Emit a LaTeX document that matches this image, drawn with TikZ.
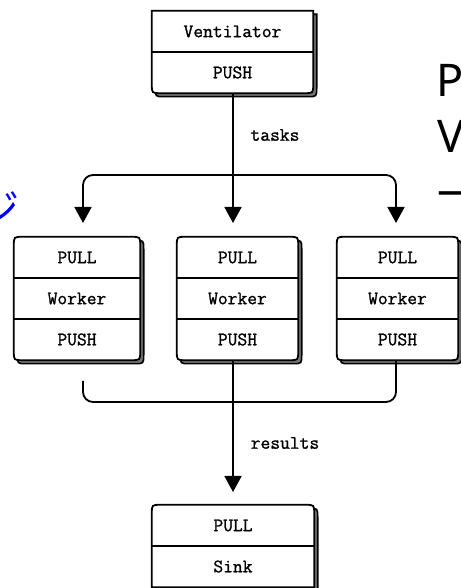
\documentclass[tikz,border=0pt]{standalone}
\usepackage{fontspec}
\newfontfamily\celltt{Latin Modern Mono}[FakeBold=1.2]
\newfontfamily\bigsans{Noto Sans}
\newfontfamily\cjk{Noto Sans CJK JP}
\usetikzlibrary{arrows.meta,calc,backgrounds}

\tikzset{
  cell/.style={minimum height=41pt, inner sep=0pt, font=\celltt\fontsize{19}{22}\selectfont},
  lbl/.style={inner sep=0pt, font=\celltt\fontsize{19}{22}\selectfont},
  wire/.style={line width=1.8pt, black},
  tip/.style={-{Triangle[length=16pt,width=17pt]}},
  twotips/.style={{Triangle[length=16pt,width=17pt]}-{Triangle[length=16pt,width=17pt]}},
  shade/.style={fill=black!55, draw=black, line width=1.6pt},
  bigtext/.style={anchor=base west, inner sep=0pt, font=\bigsans\fontsize{45}{54}\selectfont},
}

% outline of a stack of cells: #1 top cell, #2 bottom cell,
% #3 radius of the top corners, #4 radius of the bottom corners
\newcommand\drawstack[4]{%
  \coordinate (nw) at (#1.north west);
  \coordinate (ne) at (#1.north east);
  \coordinate (se) at (#2.south east);
  \coordinate (sw) at (#2.south west);
  \filldraw[shade, transform canvas={shift={(3.5pt,-3.5pt)}}]
    ($(nw)+(0,-#3)$) .. controls (nw) .. ($(nw)+(#3,0)$)
    -- ($(ne)+(-#3,0)$) .. controls (ne) .. ($(ne)+(0,-#3)$)
    -- ($(se)+(0,#4)$) .. controls (se) .. ($(se)+(-#4,0)$)
    -- ($(sw)+(#4,0)$) .. controls (sw) .. ($(sw)+(0,#4)$) -- cycle;
  \filldraw[wire, fill=white]
    ($(nw)+(0,-#3)$) .. controls (nw) .. ($(nw)+(#3,0)$)
    -- ($(ne)+(-#3,0)$) .. controls (ne) .. ($(ne)+(0,-#3)$)
    -- ($(se)+(0,#4)$) .. controls (se) .. ($(se)+(-#4,0)$)
    -- ($(sw)+(#4,0)$) .. controls (sw) .. ($(sw)+(0,#4)$) -- cycle;
}

\begin{document}
\begin{tikzpicture}[x=1pt,y=1pt]
\useasboundingbox (0,0) rectangle (460,588);
\clip (0,0) rectangle (460,588);

% Ventilator
\node[cell, minimum width=161pt] (vent) at (232.5,556.5) {Ventilator};
\node[cell, minimum width=161pt] (ventpush) at (232.5,515.5) {PUSH};

% Workers
\foreach \n/\x/\w in {1/77/126,2/237.5/121,3/397.5/121}{
  \node[cell, minimum width=\w pt] (pull\n) at (\x,330.5) {PULL};
  \node[cell, minimum width=\w pt] (work\n) at (\x,289.5) {Worker};
  \node[cell, minimum width=\w pt] (push\n) at (\x,248.5) {PUSH};
}

% Sink
\node[cell, minimum width=162pt] (sinkpull) at (233,62.5) {PULL};
\node[cell, minimum width=162pt] (sink) at (233,21.5) {Sink};

\begin{pgfonlayer}{background}
  \drawstack{vent}{ventpush}{0}{9}
  \foreach \n in {1,2,3}{\drawstack{pull\n}{push\n}{9}{9}}
  \drawstack{sinkpull}{sink}{9}{0}
\end{pgfonlayer}

% cell dividers
\draw[wire] (vent.south west) -- (vent.south east);
\foreach \n in {1,2,3}{
  \draw[wire] (pull\n.south west) -- (pull\n.south east);
  \draw[wire] (work\n.south west) -- (work\n.south east);
}
\draw[wire] (sinkpull.south west) -- (sinkpull.south east);

% tasks fan-out
\coordinate (tip1) at (83,365);
\coordinate (tip2) at (233,365);
\coordinate (tip3) at (396,365);
\coordinate (busl) at (83,413);
\coordinate (busr) at (396,413);
\draw[wire, tip] (ventpush.south -| tip2) -- (tip2);
\draw[wire, twotips, rounded corners=10pt] (tip1) -- (busl) -- (busr) -- (tip3);
\node[lbl] (tasks) at (275,453) {tasks};

% results fan-in
\coordinate (resl) at (83,207);
\coordinate (rbl) at (83,186);
\coordinate (rbr) at (396,186);
\draw[wire, rounded corners=10pt] (resl) -- (rbl) -- (rbr) -- (rbr |- push3.south);
\coordinate (sinktip) at (233,96);
\draw[wire, tip] (sinktip |- push2.south) -- (sinktip);
\node[lbl] (results) at (285,145) {results};

% large heading letters on the right
\node[bigtext] (headP) at (436,491) {P};
\node[bigtext] (headV) at (437,435) {V};
\node[bigtext] (headdash) at (437,382) {—};

% blue kana on the left edge
\node[anchor=base east, inner sep=0pt, text=blue, font=\cjk\fontsize{40}{48}\selectfont] (kana) at (20,364) {ジ};
\end{tikzpicture}
\end{document}
